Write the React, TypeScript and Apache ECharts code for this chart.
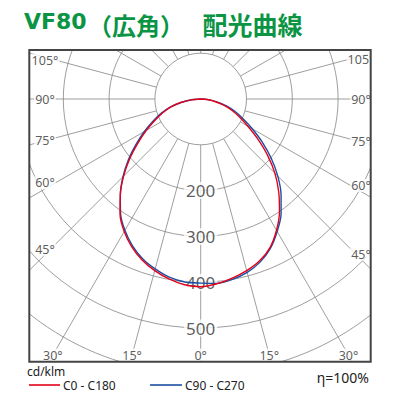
import { useEffect, useRef } from "react";
import * as echarts from "echarts";

// 配光曲線 VF80 (wide), values in cd/klm every 5° from nadir
const ANGLES = [0, 5, 10, 15, 20, 25, 30, 35, 40, 45, 50, 55, 60, 65, 70, 75, 80, 85, 90];
const C0_LEFT = [410, 407, 399, 388, 374, 356, 334, 307, 273, 238, 202, 167, 137, 110, 89, 68, 44, 21, 0];
const C180_RIGHT = [410, 405, 397, 388, 376, 358, 331, 300, 265, 229, 190, 152, 119, 94, 73, 52, 31, 14, 0];
const C90_LEFT = [402, 401, 395, 384, 371, 353, 331, 305, 273, 240, 206, 172, 142, 115, 92, 70, 44, 20, 0];
const C270_RIGHT = [402, 404, 400, 392, 379, 360, 334, 306, 273, 238, 201, 164, 130, 102, 80, 58, 34, 16, 0];

const RING_LABELS = [200, 300, 400, 500];
const SIDE_TICKS = [105, 90, 75, 60, 45];
const BOTTOM_TICKS = [30, 15, 0];

const TITLE_PARTS = ["VF80", "（広角）", "配光曲線"];
const SERIES_NAMES = ["C0 - C180", "C90 - C270"];

const RED = "#e50019";
const BLUE = "#1b4fa3";
const GREEN = "#0a9444";
const GRID = "#858585";
const FONT = "'Noto Sans', sans-serif";
const CJK = "'Noto Sans CJK JP', sans-serif";

// layout
const CX = 200.7;
const CY = 99;
const K = 0.458; // px per cd/klm
const R_MAX = 700;
const BOX = { x: 29.3, y: 50, w: 341.4, h: 311.7 };
const SIDE_DY: Record<number, number> = { 105: 3, 90: 0, 75: 0, 60: -6, 45: -5 };

const rad = (d: number): number => (d * Math.PI) / 180;

function curve(left: number[], right: number[]): number[][] {
  const pts: number[][] = [];
  for (let i = ANGLES.length - 1; i >= 0; i--) pts.push([right[i], 360 - ANGLES[i]]);
  for (let i = 1; i < ANGLES.length; i++) pts.push([left[i], ANGLES[i]]);
  return pts;
}

function angleLabels() {
  const items: Array<{ name: string; value: number[]; label?: object }> = [];
  for (const d of SIDE_TICKS) {
    const dy = SIDE_DY[d] ?? 0;
    items.push({ name: `${d}°`, value: [(CX - 45) / Math.sin(rad(d)) / K, d], label: { offset: [0, dy] } });
    items.push({ name: `${d}°`, value: [(361 - CX) / Math.sin(rad(d)) / K, 360 - d], label: { offset: [0, dy] } });
  }
  for (const d of BOTTOM_TICKS) {
    const r = (355 - CY) / Math.cos(rad(d)) / K;
    items.push({ name: `${d}°`, value: [r, d] });
    if (d !== 0) items.push({ name: `${d}°`, value: [r, 360 - d] });
  }
  return items;
}

function text(x: number, y: number, t: string, size: number, align: string, extra: object = {}) {
  return {
    type: "text",
    x,
    y,
    z: 200,
    silent: true,
    style: {
      text: t,
      fill: "#222",
      fontFamily: FONT,
      fontSize: size,
      textAlign: align,
      textVerticalAlign: "middle",
      align,
      verticalAlign: "middle",
      ...extra,
    },
  };
}

function titleElements() {
  const bold = { fill: GREEN, fontWeight: "bold" };
  return [
    text(24, 21.5, TITLE_PARTS[0], 22, "left", { ...bold, fontFamily: "'DejaVu Sans', sans-serif" }),
    text(88, 24, TITLE_PARTS[1], 24, "left", { ...bold, fontFamily: CJK }),
    text(252.5, 24, TITLE_PARTS[2], 25, "center", { ...bold, fontFamily: CJK }),
  ];
}

function mask(x: number, y: number, width: number, height: number) {
  return { type: "rect", z: 100, silent: true, shape: { x, y, width, height }, style: { fill: "#fff" } };
}

export default function App(): JSX.Element {
  const ref = useRef<HTMLDivElement | null>(null);

  useEffect(() => {
    const el = ref.current;
    if (!el) return;
    const chart = echarts.init(el, undefined, { renderer: "svg" });
    const outer = R_MAX * K;

    chart.setOption({
      animation: false,
      backgroundColor: "#fff",
      polar: [
        { center: [CX, CY], radius: [100 * K, outer] },
        { center: [CX, CY], radius: [0, outer] },
      ],
      angleAxis: [
        {
          polarIndex: 0,
          type: "value",
          min: 0,
          max: 360,
          interval: 15,
          startAngle: 270,
          clockwise: true,
          axisLine: { show: false },
          axisTick: { show: false },
          axisLabel: { show: false },
          splitLine: { show: true, lineStyle: { color: GRID, width: 0.8 } },
        },
        {
          polarIndex: 1,
          type: "value",
          min: 0,
          max: 360,
          startAngle: 270,
          clockwise: true,
          show: false,
        },
      ],
      radiusAxis: [
        {
          polarIndex: 0,
          type: "value",
          min: 100,
          max: R_MAX,
          interval: 100,
          axisLine: { show: false },
          axisTick: { show: false },
          axisLabel: { show: false },
          splitLine: { show: true, lineStyle: { color: GRID, width: 0.8 } },
        },
        {
          polarIndex: 1,
          type: "value",
          min: 0,
          max: R_MAX,
          show: false,
          splitLine: { show: false },
        },
      ],
      series: [
        {
          type: "scatter",
          coordinateSystem: "polar",
          polarIndex: 1,
          z: 1,
          symbolSize: 1,
          itemStyle: { color: "transparent" },
          silent: true,
          data: RING_LABELS.map((v) => ({ name: String(v), value: [v, 0] })),
          label: {
            show: true,
            position: "inside",
            formatter: "{b}",
            fontFamily: FONT,
            fontSize: 17,
            color: "#333",
            backgroundColor: "#fff",
            padding: [0, 2],
          },
        },
        {
          type: "scatter",
          coordinateSystem: "polar",
          polarIndex: 1,
          z: 1,
          symbolSize: 1,
          itemStyle: { color: "transparent" },
          silent: true,
          data: angleLabels(),
          label: {
            show: true,
            position: "inside",
            formatter: "{b}",
            fontFamily: FONT,
            fontSize: 12.5,
            color: "#333",
            backgroundColor: "#fff",
            padding: [0, 1],
          },
        },
        {
          name: SERIES_NAMES[1],
          type: "line",
          coordinateSystem: "polar",
          polarIndex: 1,
          z: 3,
          symbol: "none",
          smooth: 0.3,
          clip: false,
          lineStyle: { color: BLUE, width: 1.4 },
          data: curve(C90_LEFT, C270_RIGHT),
        },
        {
          name: SERIES_NAMES[0],
          type: "line",
          coordinateSystem: "polar",
          polarIndex: 1,
          z: 4,
          symbol: "none",
          smooth: 0.3,
          clip: false,
          lineStyle: { color: RED, width: 1.4 },
          data: curve(C0_LEFT, C180_RIGHT),
        },
      ],
      graphic: [
        mask(0, 0, 400, BOX.y),
        mask(0, 0, BOX.x, 400),
        mask(BOX.x + BOX.w, 0, 400 - BOX.x - BOX.w, 400),
        mask(0, BOX.y + BOX.h, 400, 400 - BOX.y - BOX.h),
        {
          type: "rect",
          z: 150,
          silent: true,
          shape: { x: BOX.x, y: BOX.y, width: BOX.w, height: BOX.h },
          style: { fill: "none", stroke: "#444", lineWidth: 2 },
        },
        ...titleElements(),
        text(27, 371, "cd/klm", 12, "left"),
        { type: "line", z: 200, silent: true, shape: { x1: 29, y1: 385, x2: 60, y2: 385 }, style: { stroke: RED, lineWidth: 1.6 } },
        text(63, 385, SERIES_NAMES[0], 12, "left"),
        { type: "line", z: 200, silent: true, shape: { x1: 150, y1: 385, x2: 182, y2: 385 }, style: { stroke: BLUE, lineWidth: 1.6 } },
        text(185, 385, SERIES_NAMES[1], 12, "left"),
        text(369, 377, "η=100%", 14, "right"),
      ],
    });

    return () => chart.dispose();
  }, []);

  return <div ref={ref} style={{ position: "absolute", left: 0, top: 0, width: 400, height: 400 }} />;
}
